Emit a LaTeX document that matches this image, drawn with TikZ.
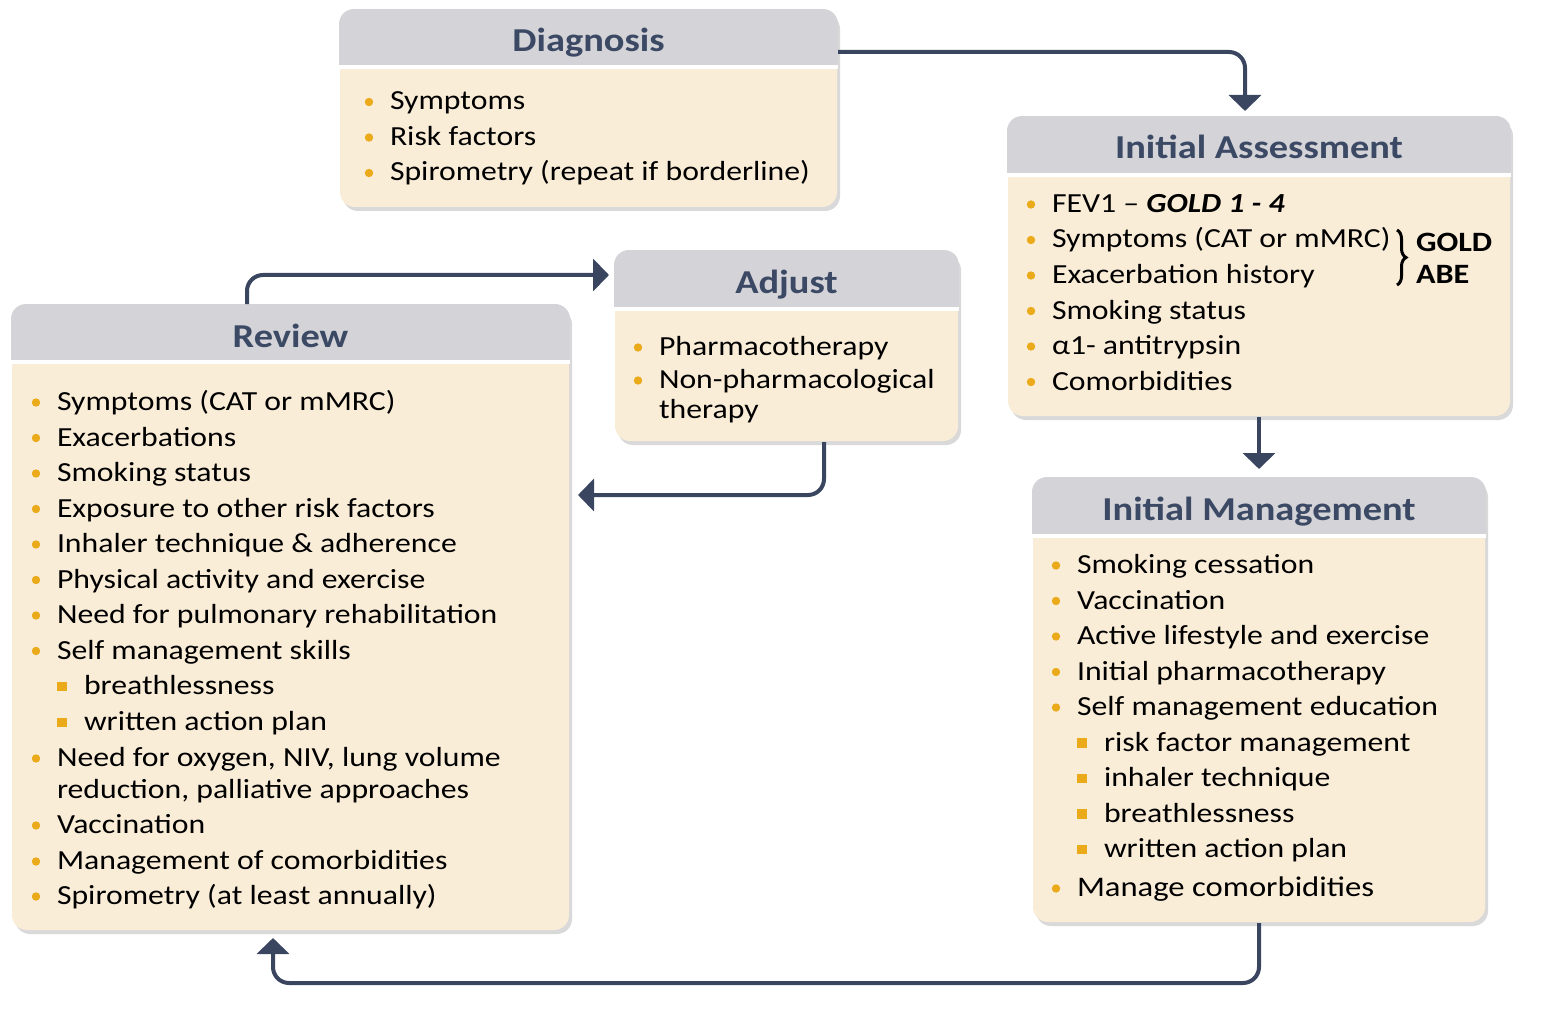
\documentclass[tikz,border=0pt]{standalone}
\usepackage{fontspec}
\setmainfont{Carlito}[FakeStretch=1.15]
\usetikzlibrary{arrows.meta,shadows,fit,decorations.pathreplacing}

\definecolor{headgray}{HTML}{D3D3D8}
\definecolor{bodycream}{HTML}{FAEDD8}
\definecolor{titleblue}{HTML}{3B4964}
\definecolor{arrowblue}{HTML}{3A4660}
\definecolor{bulletgold}{HTML}{EAAA1A}

\tikzset{
every picture/.style={
line width=1pt
}}

% grey title band on top of a panel
\newcommand{\panelhead}[3]{%
  \begin{scope}
    \clip[rounded corners=7.5pt] (#1.south west) rectangle (#1.north east);
    \fill[headgray] (#1.north west) rectangle ([yshift=-#2]#1.north east);
    \fill[white] ([yshift=-#2]#1.north west) rectangle ([yshift=-#2-2pt]#1.north east);
  \end{scope}
  \node[headtitle] (#1-title) at ([yshift=-21.5pt]#1.north) {#3};}

\begin{document}
\begin{tikzpicture}[x=0.5pt, y=-0.5pt,
panel/.style = {fill=bodycream, rounded corners=7.5pt, inner sep=0pt,
  drop shadow={shadow xshift=1.5pt, shadow yshift=-2pt, opacity=0.3}},
headtitle/.style = {anchor=base, inner sep=0pt, text=titleblue,
  font=\fontsize{16.7pt}{19pt}\selectfont\bfseries},
item/.style = {anchor=base west, inner sep=0pt,
  font=\fontsize{13.8pt}{16pt}\selectfont},
flow/.style = {draw=arrowblue, line width=2pt, rounded corners=8pt,
  -{Triangle[length=8pt, width=16pt]}}]
\useasboundingbox (0,0) rectangle (1552,1016);

% panels
\node[panel, fit={(340,10) (837,207)}] (diag) {};
\node[panel, fit={(1008,117) (1510,416)}] (ia) {};
\node[panel, fit={(615,251) (958,441)}] (adj) {};
\node[panel, fit={(12,305) (569,930)}] (rev) {};
\node[panel, fit={(1033,478) (1485,922)}] (im) {};

\panelhead{diag}{28pt}{Diagnosis}
\panelhead{ia}{28.5pt}{Initial Assessment}
\panelhead{adj}{28.5pt}{Adjust}
\panelhead{rev}{28pt}{Review}
\panelhead{im}{28.5pt}{Initial Management}

% diagnosis
\foreach \t [count=\i] in {Symptoms, Risk factors, Spirometry (repeat if borderline)}{
  \node[item] (dg\i) at (389, 74.5+35.5*\i) {\t};
  \fill[bulletgold] ([shift={(-10pt,4pt)}]dg\i.base west) circle (2.1pt);
}

% initial assessment
\foreach \t [count=\i] in {{FEV1 -- \textbf{\textit{GOLD 1 - 4}}}, Symptoms (CAT or mMRC),
    Exacerbation history, Smoking status, α1- antitrypsin, Comorbidities}{
  \node[item] (ia\i) at (1051, 177+35.5*\i) {\t};
  \fill[bulletgold] ([shift={(-10pt,4pt)}]ia\i.base west) circle (2.1pt);
}
\draw[line width=1.5pt, decorate, decoration={brace, amplitude=4.5pt}]
  (1397,230) -- (1397,285);
\node[item, font=\fontsize{14pt}{16pt}\selectfont\bfseries] (gold) at (1415,251.5) {GOLD};
\node[item, font=\fontsize{14pt}{16pt}\selectfont\bfseries] (abe) at (1415,283.5) {ABE};

% adjust
\node[item] (ad1) at (658,355.5) {Pharmacotherapy};
\node[item] (ad2) at (658,388.5) {Non-pharmacological};
\node[item] (ad2b) at (658,418) {therapy};
\foreach \n in {ad1,ad2}
  \fill[bulletgold] ([shift={(-10pt,4pt)}]\n.base west) circle (2.1pt);

% review
\foreach \t [count=\i] in {Symptoms (CAT or mMRC), Exacerbations, Smoking status,
    Exposure to other risk factors, Inhaler technique \& adherence,
    Physical activity and exercise, Need for pulmonary rehabilitation,
    Self management skills}{
  \node[item] (rv\i) at (56, 375+35.5*\i) {\t};
}
\node[item] (rvs1) at (83,694.5) {breathlessness};
\node[item] (rvs2) at (83,730.5) {written action plan};
\node[item] (rv9) at (56,766.5) {Need for oxygen, NIV, lung volume};
\node[item] (rv9b) at (56,798.5) {reduction, palliative approaches};
\node[item] (rv10) at (56,833.5) {Vaccination};
\node[item] (rv11) at (56,869.5) {Management of comorbidities};
\node[item] (rv12) at (56,904.5) {Spirometry (at least annually)};
\foreach \i in {1,...,12}
  \fill[bulletgold] ([shift={(-10pt,4pt)}]rv\i.base west) circle (2.1pt);
\foreach \n in {rvs1,rvs2}
  \fill[bulletgold] ([shift={(-10.5pt,4pt)}]\n.base west) +(-2.3pt,-2.3pt) rectangle +(2.3pt,2.3pt);

% initial management
\foreach \t [count=\i] in {Smoking cessation, Vaccination, Active lifestyle and exercise,
    Initial pharmacotherapy, Self management education}{
  \node[item] (im\i) at (1076, 538+35.5*\i) {\t};
}
\foreach \t [count=\j] in {risk factor management, inhaler technique, breathlessness,
    written action plan}{
  \node[item] (ims\j) at (1103, 715.5+35.5*\j) {\t};
  \fill[bulletgold] ([shift={(-10.5pt,4pt)}]ims\j.base west) +(-2.3pt,-2.3pt) rectangle +(2.3pt,2.3pt);
}
\node[item, font=\fontsize{14.2pt}{16pt}\selectfont] (im6) at (1076,896.5) {Manage comorbidities};
\foreach \i in {1,...,6}
  \fill[bulletgold] ([shift={(-10pt,4pt)}]im\i.base west) circle (2.1pt);

% connectors
\draw[flow] ([yshift=28.25pt]diag.east) -| ([xshift=-7pt,yshift=2.5pt]ia.north);
\draw[flow] (ia.south) -- ([yshift=4pt]im.north);
\draw[flow] (im.south) -- ++(0,60) -| ([xshift=-8.75pt,yshift=-3.5pt]rev.south);
\draw[flow] ([xshift=-21.75pt]rev.north) |- ([xshift=-2.5pt,yshift=35.5pt]adj.west);
\draw[flow] ([xshift=18.75pt]adj.south) |- ([xshift=4pt,yshift=61.25pt]rev.east);
\end{tikzpicture}
\end{document}
